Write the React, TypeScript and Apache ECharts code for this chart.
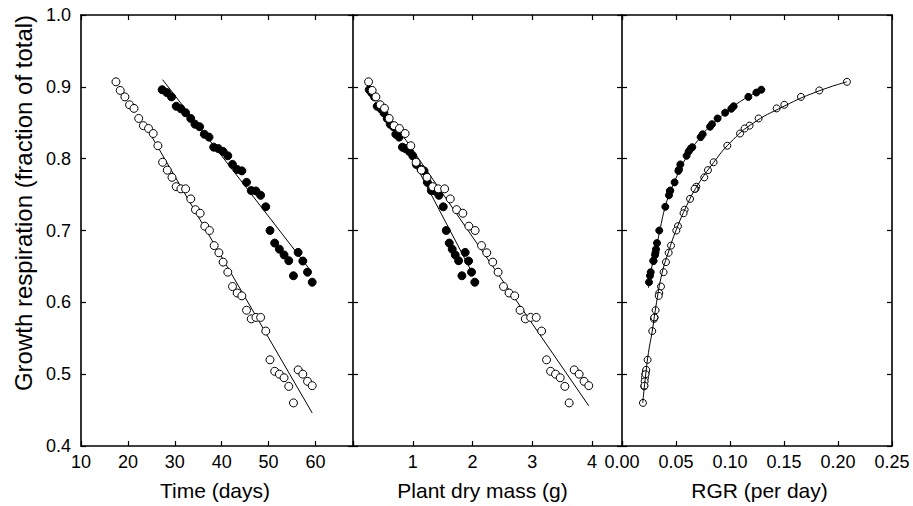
import React, { useEffect, useRef } from "react";
import * as echarts from "echarts";

// ---------- data ----------
// Open circles treatment
const openTime = [17.45, 18.36, 19.36, 20.35, 21.3, 22.3, 23.3, 24.4, 25.4, 26.4, 27.4, 28.4, 29.4, 30.3, 31.3, 32.3, 33.4, 34.4, 35.4, 36.4, 37.4, 38.4, 39.4, 40.3, 41.3, 42.3, 43.3, 44.3, 45.3, 46.3, 47.3, 48.3, 49.4, 50.3, 51.3, 52.3, 53.3, 54.3, 55.3, 56.3, 57.3, 58.3, 59.3];
const openMass = [0.26, 0.32, 0.383, 0.455, 0.527, 0.605, 0.688, 0.777, 0.872, 0.967, 1.055, 1.144, 1.238, 1.333, 1.427, 1.533, 1.627, 1.733, 1.838, 1.938, 2.043, 2.15, 2.238, 2.338, 2.427, 2.517, 2.61, 2.705, 2.794, 2.883, 2.972, 3.066, 3.155, 3.238, 3.305, 3.388, 3.466, 3.544, 3.616, 3.7, 3.783, 3.866, 3.944];
const openRGR = [0.2083, 0.1827, 0.1657, 0.1503, 0.1432, 0.1265, 0.1181, 0.1135, 0.1093, 0.0975, 0.0848, 0.0796, 0.0762, 0.0688, 0.0679, 0.0672, 0.063, 0.058, 0.057, 0.0518, 0.0503, 0.0454, 0.0432, 0.0407, 0.0385, 0.0361, 0.0345, 0.034, 0.0311, 0.0296, 0.0302, 0.0299, 0.028, 0.0237, 0.0222, 0.0216, 0.0213, 0.0206, 0.0194, 0.0224, 0.0218, 0.021, 0.0208];
const openResp = [0.907, 0.895, 0.886, 0.875, 0.870, 0.856, 0.846, 0.842, 0.835, 0.818, 0.795, 0.784, 0.774, 0.761, 0.758, 0.758, 0.744, 0.729, 0.724, 0.706, 0.700, 0.679, 0.669, 0.656, 0.642, 0.622, 0.613, 0.609, 0.589, 0.577, 0.579, 0.579, 0.560, 0.520, 0.504, 0.500, 0.495, 0.483, 0.460, 0.506, 0.500, 0.490, 0.484];

// Filled circles treatment
const filledTime = [27.3, 28.3, 29.3, 30.3, 31.3, 32.3, 33.4, 34.3, 35.3, 36.3, 37.3, 38.3, 39.3, 40.3, 41.3, 42.3, 43.3, 44.3, 45.3, 46.3, 47.3, 48.3, 49.4, 50.3, 51.3, 52.3, 53.3, 54.3, 55.3, 56.3, 57.3, 58.3, 59.3];
const filledMass = [0.272, 0.31, 0.36, 0.405, 0.467, 0.517, 0.572, 0.622, 0.677, 0.716, 0.772, 0.827, 0.877, 0.944, 1.0, 1.06, 1.138, 1.188, 1.244, 1.31, 1.372, 1.438, 1.51, 1.56, 1.61, 1.66, 1.71, 1.766, 1.822, 1.877, 1.933, 1.983, 2.038];
const filledRGR = [0.129, 0.1244, 0.117, 0.1034, 0.1012, 0.0955, 0.0885, 0.0833, 0.0815, 0.0747, 0.0728, 0.0651, 0.0636, 0.0617, 0.0598, 0.054, 0.0528, 0.0522, 0.0487, 0.0447, 0.0443, 0.0435, 0.0401, 0.0345, 0.0324, 0.0315, 0.0306, 0.029, 0.0259, 0.031, 0.0292, 0.0266, 0.025];
const filledResp = [0.896, 0.892, 0.886, 0.873, 0.8695, 0.864, 0.856, 0.848, 0.8445, 0.834, 0.830, 0.816, 0.814, 0.810, 0.804, 0.792, 0.785, 0.783, 0.767, 0.7556, 0.755, 0.749, 0.733, 0.700, 0.6825, 0.674, 0.666, 0.658, 0.637, 0.6695, 0.6575, 0.642, 0.628];

// Fitted lines / curves
const timeFitOpen = [[24.0, 0.843], [59.3, 0.446]];
const timeFitFilled = [[27.4, 0.91], [58.5, 0.648]];
const massFitOpen = [[0.85, 0.83], [3.944, 0.456]];
const massFitFilled = [[0.93, 0.81], [1.97, 0.645]];
const rgrCurveOpen = [[0.0192, 0.46], [0.022, 0.5], [0.0245, 0.53], [0.028, 0.56], [0.032, 0.6], [0.037, 0.64], [0.043, 0.67], [0.05, 0.7], [0.06, 0.735], [0.07, 0.763], [0.085, 0.795], [0.1, 0.822], [0.12, 0.848], [0.15, 0.873], [0.18, 0.893], [0.2083, 0.907]];
const rgrCurveFilled = [[0.0245, 0.62], [0.027, 0.645], [0.031, 0.67], [0.035, 0.7], [0.04, 0.733], [0.045, 0.755], [0.05, 0.773], [0.06, 0.803], [0.07, 0.825], [0.08, 0.843], [0.095, 0.863], [0.11, 0.88], [0.129, 0.896]];

// Axes
const yMin = 0.4, yMax = 1.0, yStep = 0.1;
const timeMin = 10, timeMax = 68, timeStep = 10;
const massMin = 0, massMax = 4.5, massStep = 1;
const rgrMin = 0, rgrMax = 0.25, rgrStep = 0.05;

const titles = {
  y: "Growth respiration (fraction of total)",
  time: "Time (days)",
  mass: "Plant dry mass (g)",
  rgr: "RGR (per day)",
};

const FONT = '"Liberation Sans", Arial, Helvetica, sans-serif';

function zip(xs: number[], ys: number[]) {
  return xs.map((x, i) => [x, ys[i]]);
}

export default function App() {
  const ref = useRef<HTMLDivElement>(null);
  useEffect(() => {
    document.body.style.margin = "0";
    const chart = echarts.init(ref.current!, null, { renderer: "svg" });
    const top = 15;
    const height = 431;
    const grids = [
      { left: 81, top, width: 272, height },
      { left: 353, top, width: 269, height },
      { left: 622, top, width: 270, height },
    ];
    const lineStyle = { color: "#000", width: 1.6 };
    const tick = { show: true, inside: true, length: 5, lineStyle: { color: "#000", width: 1.2 } };
    const label = { color: "#000", fontSize: 18, fontFamily: FONT, margin: 7 };

    const xCfg = [
      { min: timeMin, max: timeMax, interval: timeStep, fmt: (v: number) => (v % 10 === 0 ? String(v) : "") },
      { min: massMin, max: massMax, interval: massStep, fmt: (v: number) => (v > 0 && v < 4.2 && Math.abs(v - Math.round(v)) < 1e-6 ? String(Math.round(v)) : "") },
      { min: rgrMin, max: rgrMax, interval: rgrStep, fmt: (v: number) => v.toFixed(2) },
    ];
    const xAxis: any[] = [];
    const yAxis: any[] = [];
    xCfg.forEach((c, g) => {
      xAxis.push({
        type: "value", gridIndex: g, position: "bottom", min: c.min, max: c.max, interval: c.interval,
        axisLine: { show: true, onZero: false, lineStyle }, axisTick: tick, splitLine: { show: false },
        axisLabel: { ...label, formatter: c.fmt },
      });
      xAxis.push({
        type: "value", gridIndex: g, position: "top", min: c.min, max: c.max, interval: c.interval,
        axisLine: { show: true, onZero: false, lineStyle }, axisTick: tick, splitLine: { show: false },
        axisLabel: { show: false },
      });
      yAxis.push({
        type: "value", gridIndex: g, position: "left", min: yMin, max: yMax, interval: yStep,
        axisLine: { show: g === 0, onZero: false, lineStyle }, axisTick: tick, splitLine: { show: false },
        axisLabel: g === 0 ? { ...label, margin: 10, formatter: (v: number) => v.toFixed(1) } : { show: false },
      });
      yAxis.push({
        type: "value", gridIndex: g, position: "right", min: yMin, max: yMax, interval: yStep,
        axisLine: { show: true, onZero: false, lineStyle }, axisTick: tick, splitLine: { show: false },
        axisLabel: { show: false },
      });
    });

    const fit = (data: number[][], g: number, smooth = false, z = 2) => ({
      type: "line", xAxisIndex: g * 2, yAxisIndex: g * 2, data, symbol: "none", smooth,
      lineStyle: { color: "#000", width: 1 }, z, silent: true,
    });
    const pts = (data: number[][], g: number, filled: boolean, size: number, z = 3) => ({
      type: "scatter", xAxisIndex: g * 2, yAxisIndex: g * 2, data, symbol: "circle", symbolSize: size,
      itemStyle: { color: filled ? "#000" : "#fff", borderColor: "#000", borderWidth: 1, opacity: 1 }, z,
    });

    const series = [
      fit(timeFitOpen, 0), fit(timeFitFilled, 0),
      pts(zip(filledTime, filledResp), 0, true, 8), pts(zip(openTime, openResp), 0, false, 8),
      fit(massFitOpen, 1), fit(massFitFilled, 1),
      pts(zip(filledMass, filledResp), 1, true, 8), pts(zip(openMass, openResp), 1, false, 8),
      pts(zip(filledRGR, filledResp), 2, true, 7, 2), pts(zip(openRGR, openResp), 2, false, 7, 2),
      fit(rgrCurveOpen, 2, true, 4), fit(rgrCurveFilled, 2, true, 4),
    ];

    const titleStyle = (text: string, size: number) => ({ text, fill: "#000", fontSize: size, fontFamily: FONT, align: "center", verticalAlign: "middle" });
    chart.setOption({
      animation: false,
      backgroundColor: "#fff",
      grid: grids,
      xAxis,
      yAxis,
      series,
      graphic: [
        { type: "text", x: 215, y: 490, style: titleStyle(titles.time, 21) },
        { type: "text", x: 482.5, y: 490, style: titleStyle(titles.mass, 21) },
        { type: "text", x: 759.5, y: 490, style: titleStyle(titles.rgr, 21) },
        { type: "text", x: 23, y: 203, rotation: Math.PI / 2, style: titleStyle(titles.y, 24) },
      ],
    });
    return () => chart.dispose();
  }, []);
  return <div ref={ref} style={{ width: 913, height: 506 }} />;
}
